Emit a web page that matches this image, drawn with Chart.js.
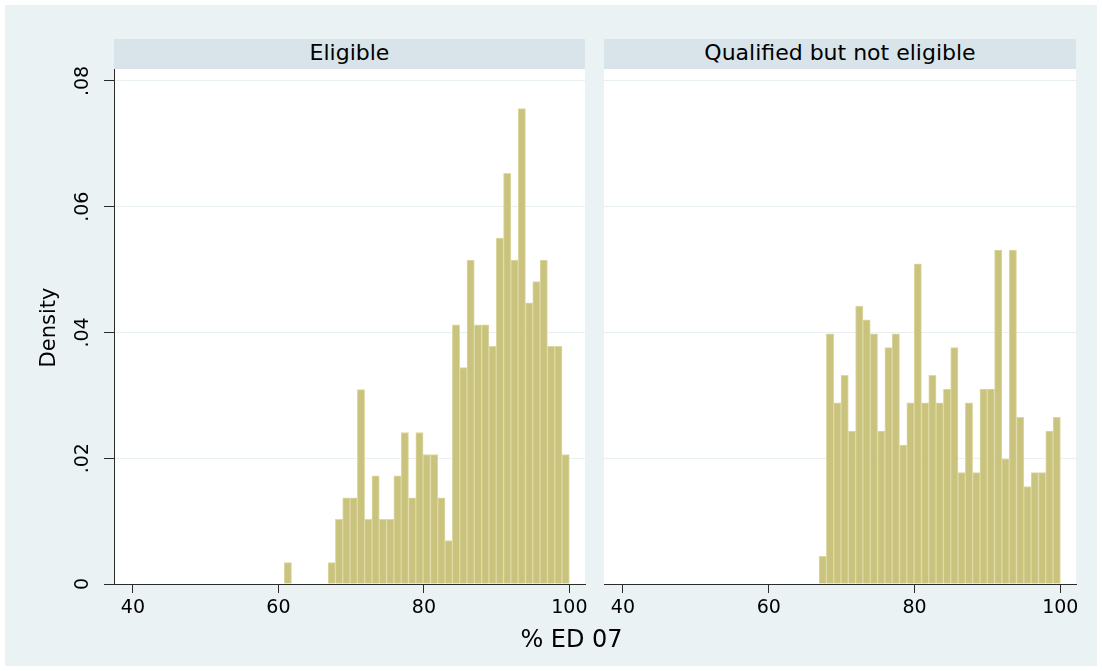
<!DOCTYPE html>
<html>
<head>
<meta charset="utf-8">
<title>% ED 07 by eligibility</title>
<script src="https://cdn.jsdelivr.net/npm/chart.js@4.4.1/dist/chart.umd.min.js"></script>
<style>
  html, body { margin: 0; padding: 0; background: #ffffff; width: 1102px; height: 671px; overflow: hidden; }
  #frame { position: absolute; left: 5px; top: 5px; width: 1092px; height: 661px; background: rgb(234, 242, 243); }
  .strip {
    position: absolute; top: 39px; height: 30px; line-height: 27px;
    background: rgb(216, 228, 234); text-align: center;
    font-family: "DejaVu Sans", sans-serif; font-size: 22px; color: #000; z-index: 2;
  }
  .panel { position: absolute; top: 39px; height: 591px; }
  #xtitle {
    position: absolute; left: 471.5px; width: 200px; top: 627px; line-height: 24px;
    text-align: center; font-family: "DejaVu Sans", sans-serif; font-size: 24px; color: #000;
  }
</style>
</head>
<body>
<div id="frame"></div>
<div class="strip" id="stripL" style="left:114px;width:471px"></div>
<div class="strip" id="stripR" style="left:604px;width:472px"></div>
<div class="panel" style="left:5px;width:590px"><canvas id="eligible"></canvas></div>
<div class="panel" style="left:595px;width:491px"><canvas id="qualified"></canvas></div>
<div id="xtitle"></div>
<script>
// Panel headings and axis titles
const panelTitles = ['Eligible', 'Qualified but not eligible'];
const yTitle = 'Density';
const xTitle = '% ED 07';

// Histogram bins: first lower edge and bin width for each group
const eligibleBinStart = 60.8;
const eligibleBinWidth = 1.005;
const qualifiedBinStart = 66.9;
const qualifiedBinWidth = 1.0033;

// Density of each bin, in order from the first bin
const eligibleDensity = [
  0.0034, 0, 0, 0, 0, 0,
  0.0034, 0.0103, 0.0137, 0.0137, 0.0309, 0.0103, 0.0172, 0.0103, 0.0103, 0.0172,
  0.0241, 0.0137, 0.0241, 0.0206, 0.0206, 0.0137, 0.0069, 0.0412, 0.0344, 0.0515,
  0.0412, 0.0412, 0.0378, 0.0550, 0.0653, 0.0515, 0.0756, 0.0447, 0.0481, 0.0515,
  0.0378, 0.0378, 0.0206
];
const qualifiedDensity = [
  0.0044, 0.0398, 0.0288, 0.0332, 0.0243, 0.0442, 0.0420, 0.0398, 0.0243, 0.0376,
  0.0398, 0.0221, 0.0288, 0.0509, 0.0288, 0.0332, 0.0288, 0.0310, 0.0376, 0.0177,
  0.0288, 0.0177, 0.0310, 0.0310, 0.0531, 0.0199, 0.0531, 0.0265, 0.0155, 0.0177,
  0.0177, 0.0243, 0.0265
];

// Axis ticks
const xTicks = [40, 60, 80, 100];
const yTicks = [0, 0.02, 0.04, 0.06, 0.08];
const yTickLabels = ['0', '.02', '.04', '.06', '.08'];

const X_MIN = 37.4, X_MAX = 102.15;
const Y_MIN = 0, Y_MAX = 0.0819;

const BAR_FILL = 'rgb(202, 195, 126)';
const BAR_EDGE = 'rgb(221, 217, 164)';
const GRID = 'rgb(232, 240, 242)';
const AXIS = '#2a2a2a';
const FONT = '"DejaVu Sans", sans-serif';

document.getElementById('stripL').textContent = panelTitles[0];
document.getElementById('stripR').textContent = panelTitles[1];
document.getElementById('xtitle').textContent = xTitle;

function binPoints(start, width, density) {
  return density
    .map((d, i) => ({ x: start + (i + 0.5) * width, y: d }))
    .filter(p => p.y > 0);
}

// White plot region behind the bars
const plotBackground = {
  id: 'plotBackground',
  beforeDraw(chart) {
    const { ctx, chartArea: a } = chart;
    ctx.save();
    ctx.fillStyle = '#ffffff';
    ctx.fillRect(a.left, a.top, a.right - a.left, a.bottom - a.top);
    ctx.restore();
  }
};

// Vertical y tick labels and the rotated y title
const yAxisText = {
  id: 'yAxisText',
  afterDraw(chart) {
    const { ctx, chartArea: a } = chart;
    const y = chart.scales.y;
    ctx.save();
    ctx.fillStyle = '#000';
    ctx.textAlign = 'center';
    ctx.textBaseline = 'alphabetic';
    ctx.font = '19px ' + FONT;
    yTicks.forEach((v, i) => {
      ctx.save();
      ctx.translate(y.right - 26.5, y.getPixelForValue(v));
      ctx.rotate(-Math.PI / 2);
      ctx.fillText(yTickLabels[i], 0, 0);
      ctx.restore();
    });
    ctx.font = '21px ' + FONT;
    ctx.translate(y.left + 50, (a.top + a.bottom) / 2 + 1);
    ctx.rotate(-Math.PI / 2);
    ctx.fillText(yTitle, 0, 0);
    ctx.restore();
  }
};

function makePanel(canvasId, points, withYAxis) {
  const plugins = [plotBackground];
  if (withYAxis) plugins.push(yAxisText);
  return new Chart(document.getElementById(canvasId), {
    type: 'bar',
    data: {
      datasets: [{
        data: points,
        backgroundColor: BAR_FILL,
        borderColor: BAR_EDGE,
        borderWidth: 1,
        borderSkipped: 'start',
        barPercentage: 1,
        categoryPercentage: 1,
        grouped: false
      }]
    },
    options: {
      responsive: true,
      maintainAspectRatio: false,
      animation: false,
      events: [],
      layout: { padding: { top: 30, right: 10, left: 0, bottom: 0 } },
      plugins: { legend: { display: false }, tooltip: { enabled: false }, title: { display: false } },
      scales: {
        x: {
          type: 'linear',
          offset: false,
          min: X_MIN,
          max: X_MAX,
          afterBuildTicks: s => { s.ticks = xTicks.map(v => ({ value: v })); },
          afterFit: s => { s.height = 46; },
          grid: { display: true, offset: false, drawOnChartArea: false, drawTicks: true, tickLength: 9, tickColor: AXIS },
          border: { display: true, color: AXIS, width: 1 },
          ticks: { font: { family: FONT, size: 19 }, color: '#000', padding: 4, maxRotation: 0, autoSkip: false }
        },
        y: {
          type: 'linear',
          min: Y_MIN,
          max: Y_MAX,
          afterBuildTicks: s => { s.ticks = yTicks.map(v => ({ value: v })); },
          afterFit: s => { s.width = withYAxis ? 109 : 9; },
          grid: { color: GRID, lineWidth: 1, drawTicks: withYAxis, tickLength: 10, tickColor: AXIS },
          border: { display: withYAxis, color: AXIS, width: 1 },
          ticks: { display: false }
        }
      }
    },
    plugins
  });
}

makePanel('eligible', binPoints(eligibleBinStart, eligibleBinWidth, eligibleDensity), true);
makePanel('qualified', binPoints(qualifiedBinStart, qualifiedBinWidth, qualifiedDensity), false);
</script>
</body>
</html>
